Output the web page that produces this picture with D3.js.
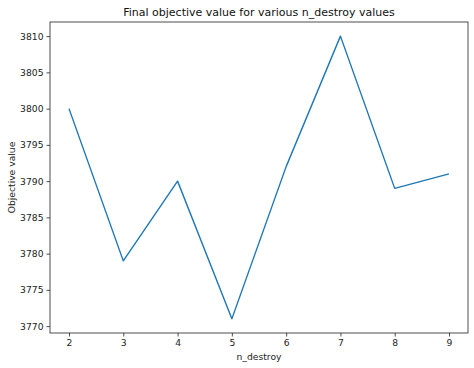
<!DOCTYPE html>
<html>
<head>
<meta charset="utf-8">
<script src="https://cdn.jsdelivr.net/npm/d3@7"></script>
<style>
	body { margin: 0; background: #fff; }
	svg { display: block; font-family: "DejaVu Sans", sans-serif; }
</style>
</head>
<body>
<script>
(function () {
	"use strict";

	var w = 474;
	var h = 368;

	var nDestroy = [2, 3, 4, 5, 6, 7, 8, 9];
	var objValues = [3800, 3779, 3790, 3771, 3792, 3810, 3789, 3791];
	var yTicks = [3770, 3775, 3780, 3785, 3790, 3795, 3800, 3805, 3810];

	var m = { top: 22, right: 6, bottom: 35, left: 50 };

	var xPad = (d3.max(nDestroy) - d3.min(nDestroy)) * 0.05;
	var yPad = (d3.max(objValues) - d3.min(objValues)) * 0.05;

	var xScale = d3.scaleLinear()
		.domain([d3.min(nDestroy) - xPad, d3.max(nDestroy) + xPad])
		.range([m.left, w - m.right]);

	var yScale = d3.scaleLinear()
		.domain([d3.min(objValues) - yPad, d3.max(objValues) + yPad])
		.range([h - m.bottom, m.top]);

	var svg = d3.select("body")
		.append("svg")
		.attr("width", w)
		.attr("height", h);

	var xAxis = d3.axisBottom(xScale)
		.tickValues(nDestroy)
		.tickFormat(d3.format("d"))
		.tickSizeOuter(0)
		.tickSize(3.5)
		.tickPadding(3);

	var yAxis = d3.axisLeft(yScale)
		.tickValues(yTicks)
		.tickFormat(d3.format("d"))
		.tickSizeOuter(0)
		.tickSize(3.5)
		.tickPadding(3);

	var gx = svg.append("g")
		.attr("transform", "translate(0," + (h - m.bottom) + ")")
		.call(xAxis);

	var gy = svg.append("g")
		.attr("transform", "translate(" + m.left + ",0)")
		.call(yAxis);

	[gx, gy].forEach(function (g) {
		g.select(".domain").remove();
		g.selectAll(".tick line").attr("stroke", "#222").attr("stroke-width", 0.8);
		g.selectAll(".tick text")
			.attr("fill", "#222")
			.style("font-size", "9.2px")
			.style("font-family", "DejaVu Sans, sans-serif");
	});

	var lineFun = d3.line()
		.x((d, i) => xScale(nDestroy[i]))
		.y((d) => yScale(d));

	svg.append("path")
		.attr("d", lineFun(objValues))
		.attr("fill", "none")
		.attr("stroke", "#1f77b4")
		.attr("stroke-width", 1.4)
		.attr("stroke-linejoin", "round");

	// axes frame
	svg.append("rect")
		.attr("x", m.left)
		.attr("y", m.top)
		.attr("width", w - m.left - m.right)
		.attr("height", h - m.top - m.bottom)
		.attr("fill", "none")
		.attr("stroke", "#222")
		.attr("stroke-width", 0.8);

	svg.append("text")
		.attr("x", (m.left + w - m.right) / 2)
		.attr("y", m.top - 6)
		.attr("text-anchor", "middle")
		.style("font-size", "11px")
		.attr("fill", "#111")
		.text("Final objective value for various n_destroy values");

	svg.append("text")
		.attr("x", (m.left + w - m.right) / 2)
		.attr("y", h - 8)
		.attr("text-anchor", "middle")
		.style("font-size", "9.2px")
		.attr("fill", "#222")
		.text("n_destroy");

	svg.append("text")
		.attr("transform", "translate(15," + ((m.top + h - m.bottom) / 2) + ") rotate(-90)")
		.attr("text-anchor", "middle")
		.style("font-size", "9.2px")
		.attr("fill", "#222")
		.text("Objective value");
})();
</script>
</body>
</html>
